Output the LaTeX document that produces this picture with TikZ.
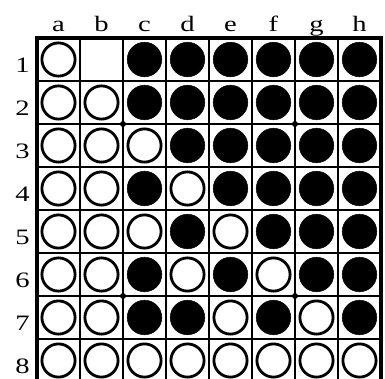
\documentclass[tikz,border=0pt]{standalone}
\usepackage{fontspec}
\setmainfont{Liberation Serif}
\begin{document}
\begin{tikzpicture}[x=1pt,y=-1pt,
  wdisc/.style={draw=black,fill=white,line width=2.8pt},
  bdisc/.style={draw=black,fill=black,line width=0.5pt},
  gridline/.style={line width=2pt},
  frameline/.style={line width=4pt},
  lbl/.style={font=\fontsize{22}{22}\selectfont,anchor=base,inner sep=0pt}]
\def\MyW{W}\def\MyB{B}
\newcommand\widetxt[1]{\scalebox{1.3}[1]{#1}}
\useasboundingbox (0,0) rectangle (385,378);
\clip (0,0) rectangle (385,378);
\fill[white] (0,0) rectangle (385,378);
% grid
\foreach \k in {1,...,7} {
  \draw[gridline] ({37+43*\k},38) -- ({37+43*\k},382);
  \draw[gridline] (37,{38+43*\k}) -- (381,{38+43*\k});
}
\draw[frameline] (37,38) rectangle (381,382);
% star points
\foreach \px/\py in {2/2,6/2,2/6,6/6}
  \fill ({37+43*\px},{38+43*\py}) circle (3);
% labels
\foreach \c [count=\i from 0] in {a,b,c,d,e,f,g,h}
  \node[lbl] (col\c) at ({58.5+43*\i},31) {\widetxt{\c}};
\foreach \r [count=\i from 0] in {1,...,8}
  \node[lbl] (row\r) at (22.5,{72+43*\i}) {\widetxt{\r}};
% discs: rows top to bottom, W = white, B = black, E = empty
\foreach \row [count=\j from 0] in {
  {W,E,B,B,B,B,B,B},
  {W,W,B,B,B,B,B,B},
  {W,W,W,B,B,B,B,B},
  {W,W,B,W,B,B,B,B},
  {W,W,W,B,W,B,B,B},
  {W,W,B,W,B,W,B,B},
  {W,W,B,B,W,B,W,B},
  {W,W,W,W,W,W,W,W}} {
  \foreach \s [count=\i from 0] in \row {
    \ifx\s\MyW
      \draw[wdisc] ({58.5+43*\i},{59.5+43*\j}) circle (16.6);
    \else\ifx\s\MyB
      \fill[bdisc] ({58.5+43*\i},{59.5+43*\j}) circle (17.3);
    \fi\fi
  }
}
\end{tikzpicture}
\end{document}
